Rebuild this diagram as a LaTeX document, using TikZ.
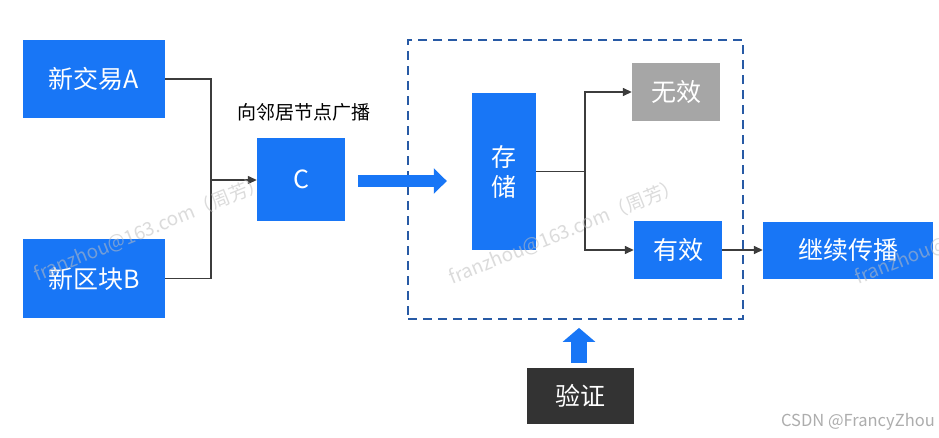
\documentclass[tikz,border=0pt]{standalone}
\usepackage{fontspec}
\setmainfont{Noto Sans CJK SC}
\usetikzlibrary{arrows.meta}
\definecolor{boxblue}{RGB}{24,118,246}
\definecolor{dashblue}{RGB}{40,90,165}
\definecolor{linegray}{RGB}{60,60,60}
\definecolor{invgray}{RGB}{166,166,166}
\definecolor{darkbox}{RGB}{51,51,51}
\definecolor{wmgray}{RGB}{190,190,190}
\tikzset{
  bluebox/.style={fill=boxblue, text=white, inner sep=0pt, font=\fontsize{25}{30}\selectfont, align=center},
  graybox/.style={bluebox, fill=invgray},
  darkboxst/.style={bluebox, fill=darkbox},
  conn/.style={draw=linegray, line width=1.4pt},
  connarrow/.style={conn, -{Triangle[length=9pt,width=8pt]}},
  fatright/.style={draw=boxblue, line width=12pt, -{Triangle[length=13pt,width=25pt]}},
  fatup/.style={draw=boxblue, line width=16pt, -{Triangle[length=14pt,width=32pt]}},
  region/.style={draw=dashblue, line width=1.8pt, dash pattern=on 9pt off 6pt},
  watermark/.style={text=wmgray, text opacity=0.55, font=\fontsize{19}{22}\selectfont, rotate=22, inner sep=0pt},
}
\begin{document}
\begin{tikzpicture}[x=1pt,y=-1pt]
\useasboundingbox (0,0) rectangle (939,437);
\clip (0,0) rectangle (939,437);
\fill[white] (0,0) rectangle (939,437);

% boxes
\node[bluebox, minimum width=142pt, minimum height=78pt] (A) at (94,79) {新交易A};
\node[bluebox, minimum width=142pt, minimum height=79pt] (B) at (94,278.5) {新区块B};
\node[bluebox, minimum width=88pt, minimum height=83pt] (C) at (301,179.5) {C};
\node[font=\fontsize{19}{22}\selectfont, inner sep=0pt] (lbl) at (304,112) {向邻居节点广播};

\node[region, minimum width=335pt, minimum height=279pt, inner sep=0pt] (reg) at (575.5,179.5) {};

\node[bluebox, minimum width=64pt, minimum height=157pt] (store) at (504,171.5) {存\\储};
\node[graybox, minimum width=88pt, minimum height=58pt] (inv) at (676,92) {无效};
\node[bluebox, minimum width=88pt, minimum height=58pt] (val) at (678,250) {有效};
\node[bluebox, minimum width=170pt, minimum height=57pt] (cont) at (848,250.5) {继续传播};
\node[darkboxst, minimum width=107pt, minimum height=56pt] (ver) at (580.5,396) {验证};

\node[text=black!32, font=\fontsize{16.5}{18}\selectfont, anchor=east, inner sep=0pt] (csdn) at (935,422) {CSDN @FrancyZhou};

% connectors
\coordinate (J) at (211,180);
\draw[conn] (A.east) -| (J);
\draw[conn] (B.east) -| (J);
\draw[connarrow] (J) -- (J -| C.west);

\coordinate (K) at (585,171.5);
\draw[conn] (store.east) -- (K);
\draw[connarrow] (K) |- (inv.west);
\draw[connarrow] (K) |- (val.west);
\draw[connarrow] (val.east) -- (val.east -| cont.west);

% fat arrows
\draw[fatright] ([xshift=13pt]C.east |- 0,181) -- ([xshift=-25pt]store.west |- 0,181);
\draw[fatup] ([yshift=5pt]ver.north -| 579,0) -- ([yshift=-8pt]reg.south -| 579,0);

% watermarks
\node[watermark] (wm1) at (150,229) {franzhou@163.com（周芳）};
\node[watermark] (wm2) at (565,232) {franzhou@163.com（周芳）};
\node[watermark, anchor=south west] (wm3) at (860,288) {franzhou@163.com（周芳）};
\end{tikzpicture}
\end{document}
